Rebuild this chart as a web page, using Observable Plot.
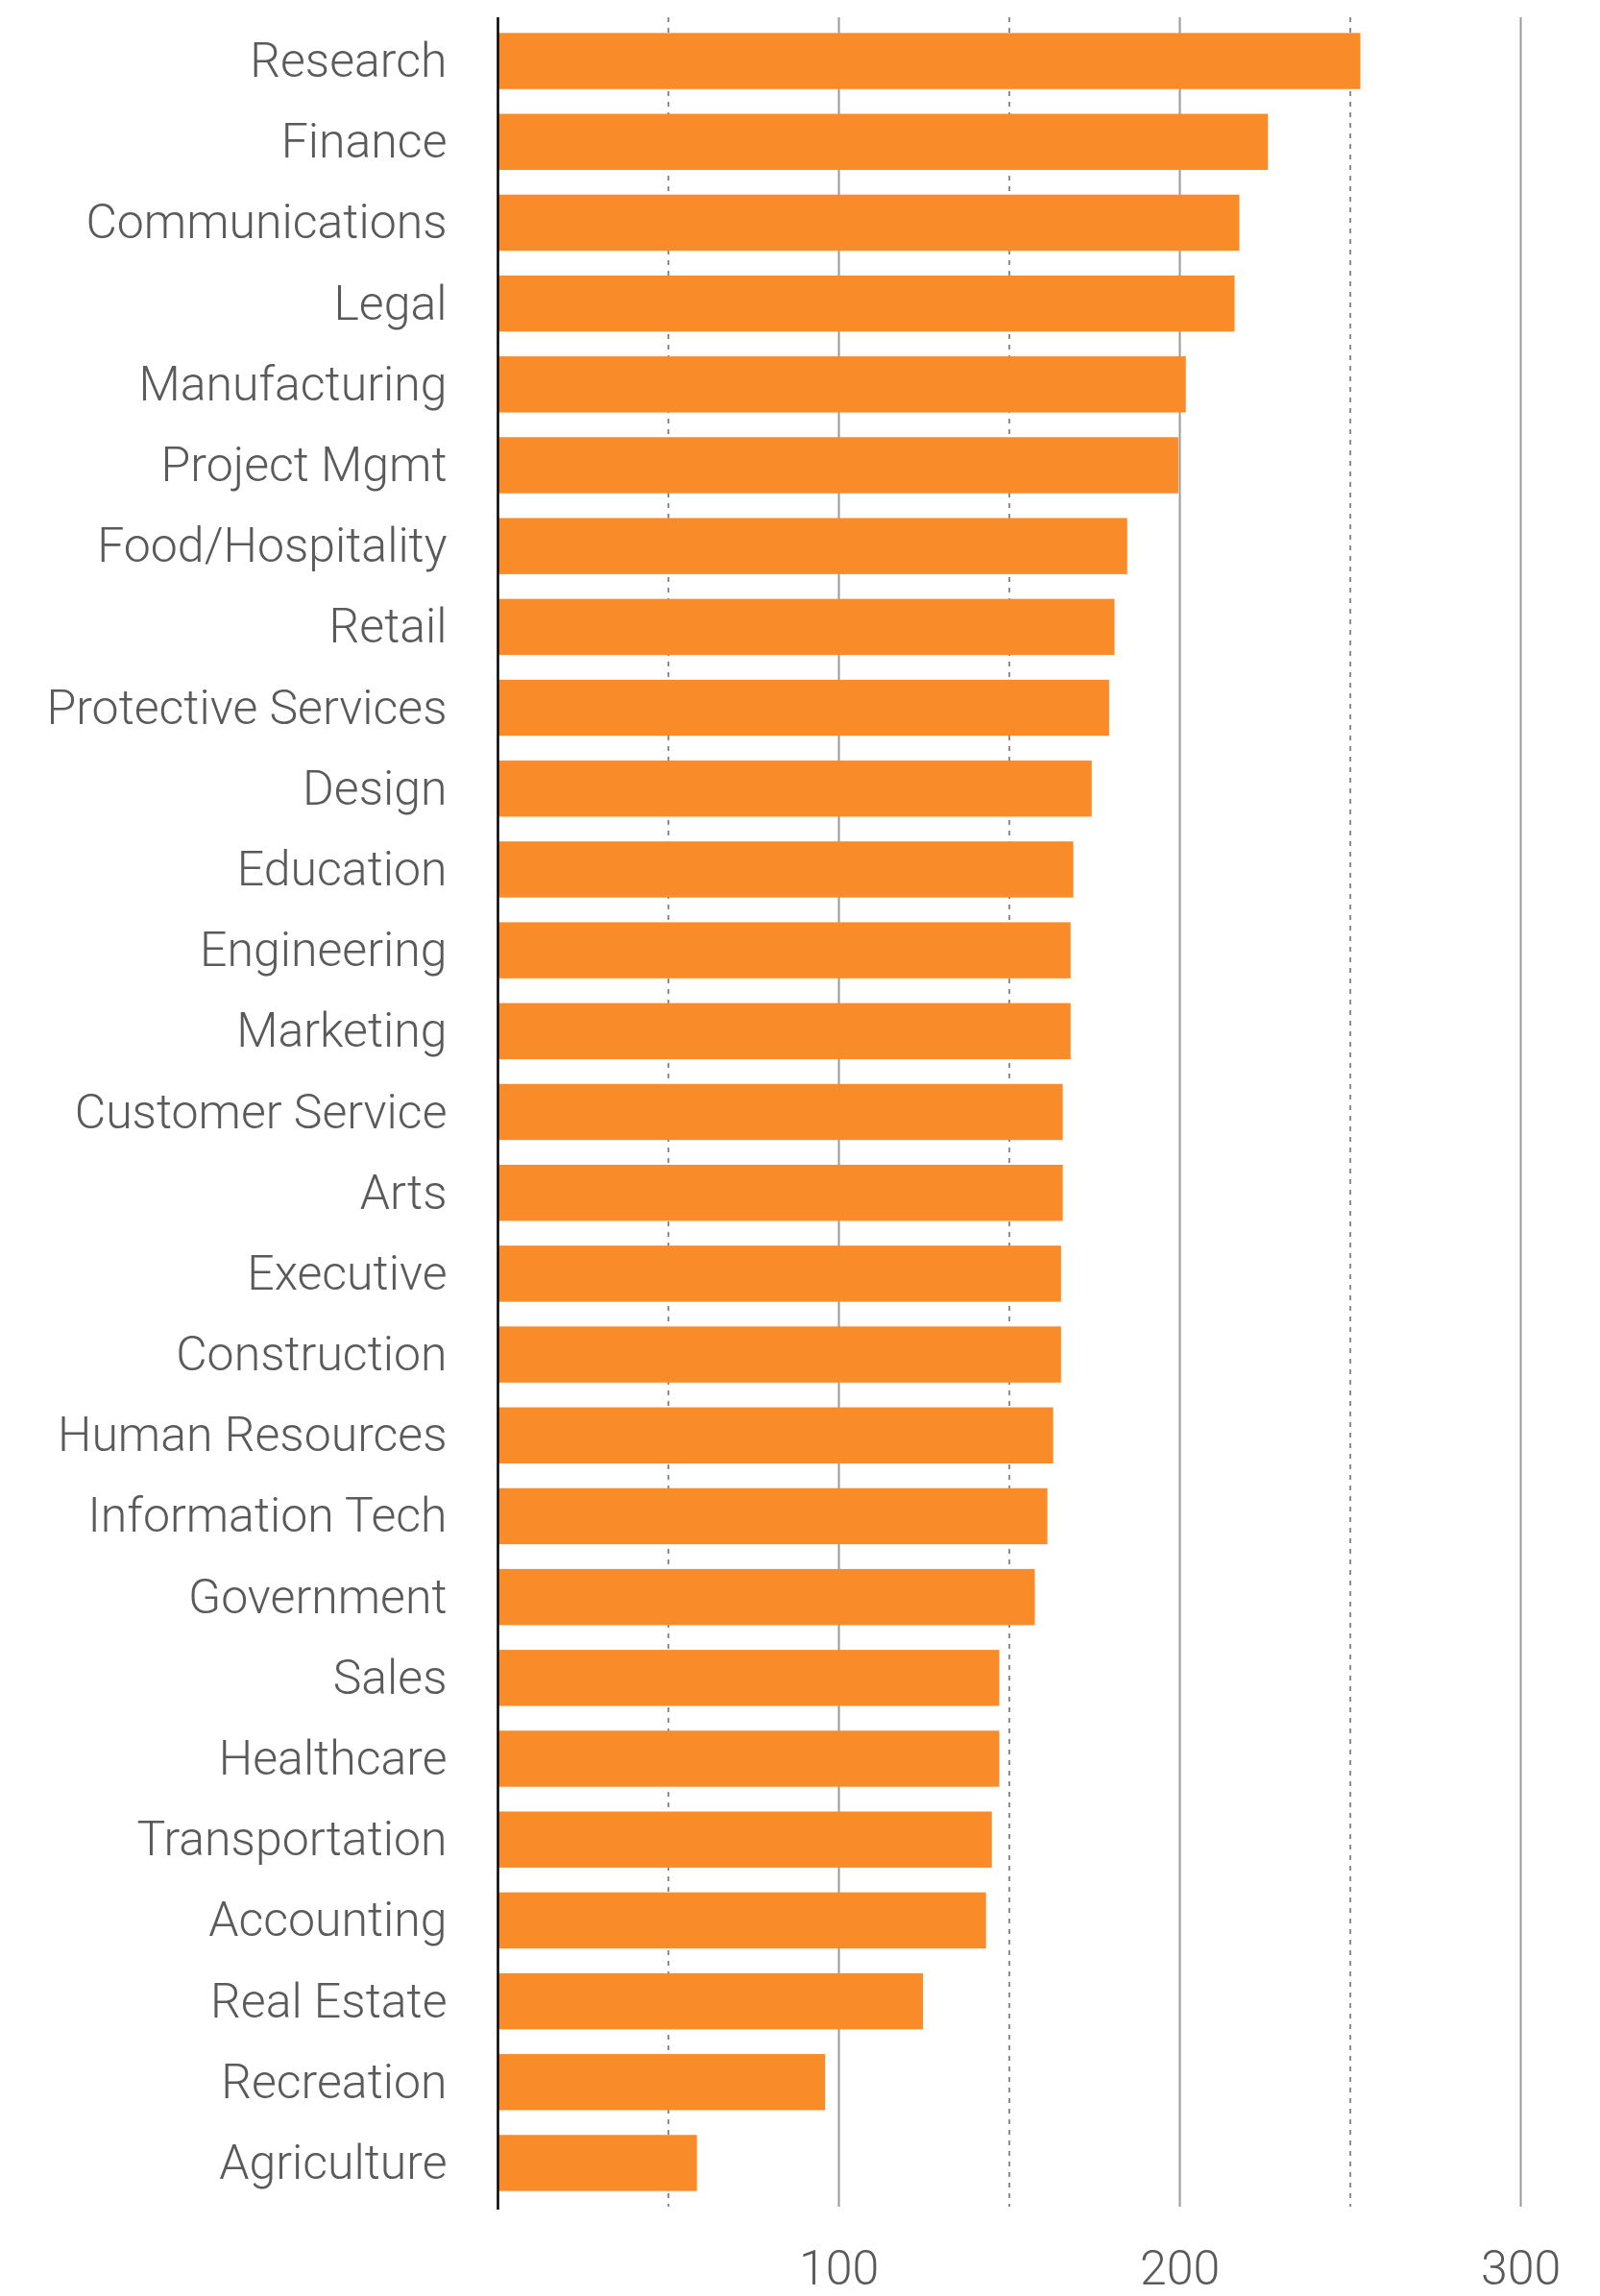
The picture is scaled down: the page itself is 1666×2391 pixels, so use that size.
<!DOCTYPE html>
<html>
<head>
<meta charset="utf-8">
<script src="https://cdn.jsdelivr.net/npm/d3@7"></script>
<script src="https://cdn.jsdelivr.net/npm/@observablehq/plot@0.6"></script>
<style>
  html, body { margin: 0; padding: 0; background: #fff; }
</style>
</head>
<body>
<div id="chart"></div>
<script>
const categories = [
  "Research", "Finance", "Communications", "Legal", "Manufacturing", "Project Mgmt",
  "Food/Hospitality", "Retail", "Protective Services", "Design", "Education",
  "Engineering", "Marketing", "Customer Service", "Arts", "Executive", "Construction",
  "Human Resources", "Information Tech", "Government", "Sales", "Healthcare",
  "Transportation", "Accounting", "Real Estate", "Recreation", "Agriculture"
];
const values = [
  253.1, 226.0, 217.6, 216.2, 201.9, 199.7,
  184.7, 181.0, 179.4, 174.3, 168.9,
  168.1, 168.1, 165.8, 165.8, 165.3, 165.3,
  163.0, 161.3, 157.6, 147.2, 147.2,
  145.0, 143.3, 124.8, 96.1, 58.5
];
const majorTicks = [100, 200, 300];
const minorTicks = [50, 150, 250];

const data = categories.map((c, i) => ({category: c, value: values[i]}));

const chart = Plot.plot({
  width: 1666,
  height: 2391,
  marginTop: 18,
  marginBottom: 93,
  marginLeft: 518,
  marginRight: 83,
  style: {
    fontFamily: "Roboto, 'Open Sans', sans-serif",
    fontWeight: 300,
    fontSize: "50px",
    color: "#5a5a5a",
    background: "#fff"
  },
  x: {domain: [0, 300]},
  y: {domain: categories, paddingInner: 0.306, paddingOuter: 0.194, round: false},
  marks: [
    Plot.ruleX(minorTicks, {stroke: "#8f8f8f", strokeWidth: 2, strokeDasharray: "5,6", strokeOpacity: 1}),
    Plot.ruleX(majorTicks, {stroke: "#999", strokeWidth: 2, strokeOpacity: 1}),
    Plot.barX(data, {x: "value", y: "category", fill: "#f98b29"}),
    Plot.ruleX([0], {stroke: "#000", strokeWidth: 2.5, insetBottom: -3}),
    Plot.axisY({tickSize: 0, tickPadding: 53, fontSize: 50, label: null}),
    Plot.axisX({ticks: majorTicks, tickSize: 0, tickPadding: 45, fontSize: 50, label: null})
  ]
});
document.getElementById("chart").appendChild(chart);
</script>
</body>
</html>
